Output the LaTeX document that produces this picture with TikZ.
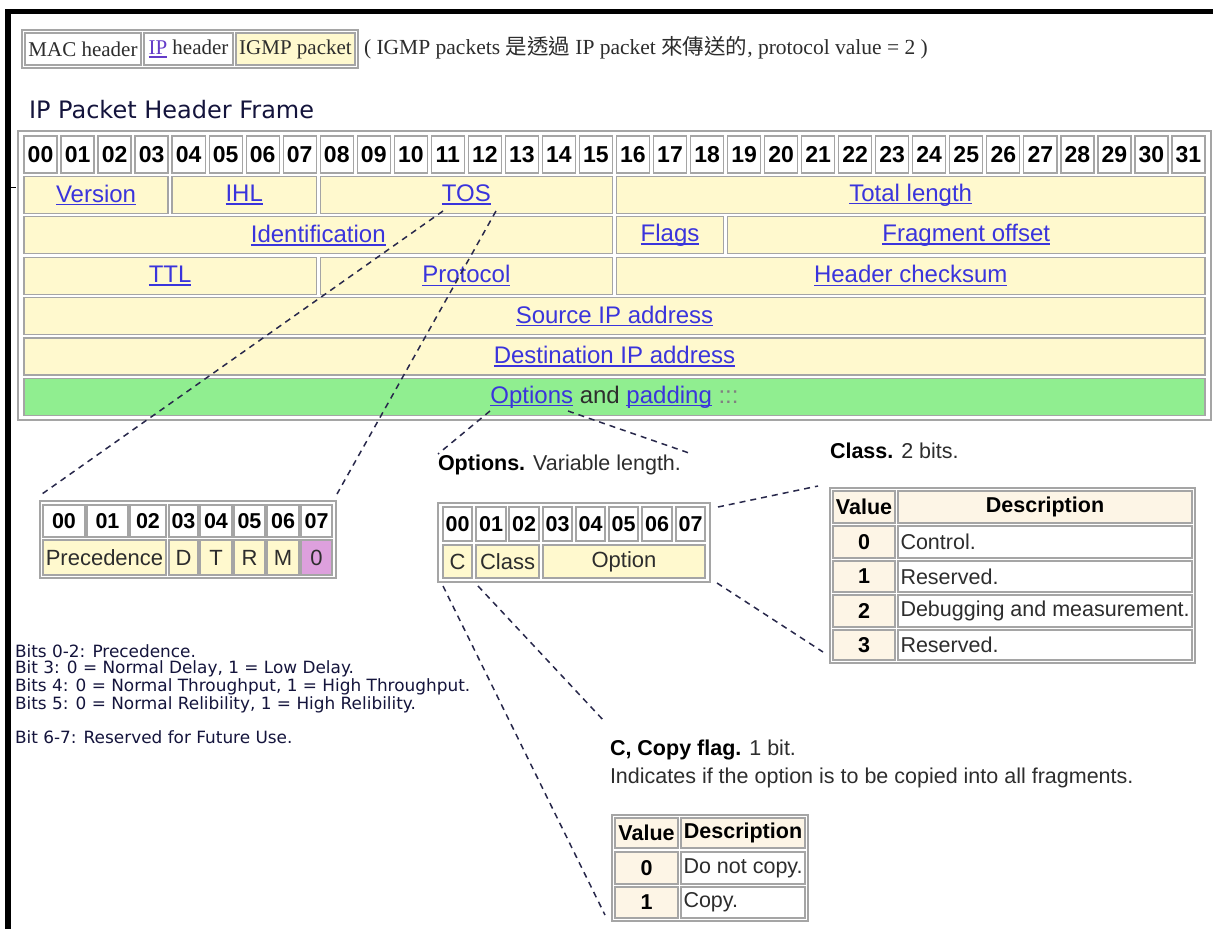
\documentclass[tikz,border=0pt]{standalone}
\usepackage{fontspec}
\setmainfont{Liberation Sans}
\newfontfamily\serifA{Liberation Serif}
\newfontfamily\verd{DejaVu Sans}
\newfontfamily\cjk{Noto Sans CJK TC}
\usetikzlibrary{calc}
\definecolor{cellyel}{RGB}{255,249,206}
\definecolor{cellgreen}{RGB}{144,238,144}
\definecolor{cellplum}{RGB}{221,160,221}
\definecolor{cellbeige}{RGB}{253,245,230}
\definecolor{lnkc}{RGB}{58,52,220}
\definecolor{ipc}{RGB}{100,60,200}
\definecolor{bordc}{RGB}{165,165,165}
\definecolor{dashc}{RGB}{40,40,75}
\definecolor{txtc}{RGB}{45,45,45}
\definecolor{titlec}{RGB}{20,20,60}
\newcommand\fsz[1]{\fontsize{#1}{#1}\selectfont}
\newcommand\ulc[2]{{\color{#1}\setbox0\hbox{#2}\rlap{\rule[-0.13em]{\wd0}{0.06em}}\box0}}
\newcommand\lnk[1]{\ulc{lnkc}{#1}}
\newcommand\twod[1]{\ifnum#1<10 0\fi#1}
\newcommand\cellat[7]{\node[cellbox,#6,minimum width={(#4)-(#2)},minimum height={(#5)-(#3)}] (#1) at ({((#2)+(#4))/2},{((#3)+(#5))/2}) {#7};}
\newcommand\cellL[7]{\pgfmathsetmacro\tw{(#4)-(#2)-5}\node[cellbox,#6,minimum width={(#4)-(#2)},minimum height={(#5)-(#3)}] (#1) at ({((#2)+(#4))/2},{((#3)+(#5))/2}) {\makebox[\tw pt][l]{#7}};}
\newcommand\fieldcell[6]{%
 \pgfmathsetmacro\xa{22+#2*37.03+2}\pgfmathsetmacro\xb{22+#3*37.03-2}%
 \pgfmathsetmacro\ya{136+#4*40.4}\pgfmathsetmacro\yb{\ya+37}%
 \cellat{#1}{\xa}{\ya}{\xb}{\yb}{fill=#5,font=\fsz{24}}{#6}}
\begin{document}
\begin{tikzpicture}[x=1pt,y=-1pt,
  cellbox/.style={draw=bordc,line width=1.3pt,inner sep=0pt,outer sep=0pt,text=txtc},
  bitnum/.style={fill=white,font=\bfseries\fsz{23},text=black},
  subbit/.style={fill=white,font=\bfseries\fsz{21.5},text=black},
  subfld/.style={font=\fsz{22}},
  tblhead/.style={fill=cellbeige,font=\bfseries\fsz{21.5},text=black},
  tblval/.style={fill=cellbeige,font=\bfseries\fsz{21.5},text=black},
  tbldesc/.style={fill=white,font=\fsz{21.5}},
  notetext/.style={plain,font=\verd\fsz{16.9},text=titlec},
  lbltext/.style={plain,font=\fsz{21.5},text=txtc},
  dashline/.style={draw=dashc,line width=1.5pt,dash pattern=on 6pt off 5pt},
  plain/.style={inner sep=0pt,outer sep=0pt,anchor=west}]
\fill[white] (0,0) rectangle (1213,929);
\fill[black] (5,9) rectangle (1213,14);
\fill[black] (5,9) rectangle (11,929);
\draw[black,line width=1pt] (11,187) -- (16,187);
% header strip
\cellat{hdr}{22}{30}{358}{68}{fill=white}{}
\cellat{mac}{25}{33}{141}{65}{fill=white,font=\serifA\fsz{21}}{MAC header}
\cellat{iph}{144}{33}{233}{65}{fill=white,font=\serifA\fsz{21}}{\ulc{ipc}{IP} header}
\cellat{igmp}{236}{33}{355}{65}{fill=cellyel,font=\serifA\fsz{21}}{IGMP packet}
\node[plain,font=\serifA\fsz{21.5},text=txtc] (note) at (364,48) {( IGMP packets {\cjk 是透過} IP packet {\cjk 來傳送的}, protocol value = 2 )};
\node[plain,font=\verd\fsz{24},text=titlec] (title) at (29,110) {IP Packet Header Frame};
% main table
\cellat{maintbl}{18}{131}{1211}{420}{fill=white}{}
\foreach \i in {0,...,31}{%
  \pgfmathsetmacro\xa{22+\i*37.03+2}\pgfmathsetmacro\xb{22+(\i+1)*37.03-2}%
  \cellat{b\i}{\xa}{136}{\xb}{173}{bitnum}{\twod{\i}}}
\fieldcell{ver}{0}{4}{1}{cellyel}{\lnk{Version}}
\fieldcell{ihl}{4}{8}{1}{cellyel}{\lnk{IHL}}
\fieldcell{tos}{8}{16}{1}{cellyel}{\lnk{TOS}}
\fieldcell{tlen}{16}{32}{1}{cellyel}{\lnk{Total length}}
\fieldcell{ident}{0}{16}{2}{cellyel}{\lnk{Identification}}
\fieldcell{flags}{16}{19}{2}{cellyel}{\lnk{Flags}}
\fieldcell{frag}{19}{32}{2}{cellyel}{\lnk{Fragment offset}}
\fieldcell{ttl}{0}{8}{3}{cellyel}{\lnk{TTL}}
\fieldcell{proto}{8}{16}{3}{cellyel}{\lnk{Protocol}}
\fieldcell{hcs}{16}{32}{3}{cellyel}{\lnk{Header checksum}}
\fieldcell{src}{0}{32}{4}{cellyel}{\lnk{Source IP address}}
\fieldcell{dst}{0}{32}{5}{cellyel}{\lnk{Destination IP address}}
\fieldcell{opt}{0}{32}{6}{cellgreen}{\lnk{Options} and \lnk{padding} {\color{gray}:::}}
% TOS sub table
\cellat{tossub}{40}{501}{336}{578}{fill=white}{}
\cellat{t0}{43}{505}{85}{537}{subbit}{00}
\cellat{t1}{87}{505}{128}{537}{subbit}{01}
\cellat{t2}{130}{505}{166}{537}{subbit}{02}
\cellat{t3}{169}{505}{198}{537}{subbit}{03}
\cellat{t4}{200}{505}{232}{537}{subbit}{04}
\cellat{t5}{234}{505}{265}{537}{subbit}{05}
\cellat{t6}{267}{505}{299}{537}{subbit}{06}
\cellat{t7}{301}{505}{332}{537}{subbit}{07}
\cellat{prec}{43}{540}{166}{575}{subfld,fill=cellyel}{Precedence}
\cellat{tD}{169}{540}{198}{575}{subfld,fill=cellyel}{D}
\cellat{tT}{200}{540}{232}{575}{subfld,fill=cellyel}{T}
\cellat{tR}{234}{540}{265}{575}{subfld,fill=cellyel}{R}
\cellat{tM}{267}{540}{299}{575}{subfld,fill=cellyel}{M}
\cellat{tZ}{301}{540}{332}{575}{subfld,fill=cellplum}{0}
% TOS bit notes
\node[notetext] (n1) at (15,651) {Bits 0-2: Precedence.};
\node[notetext] (n2) at (15,669) {Bit 3: 0 = Normal Delay, 1 = Low Delay.};
\node[notetext] (n3) at (15,687) {Bits 4: 0 = Normal Throughput, 1 = High Throughput.};
\node[notetext] (n4) at (15,705) {Bits 5: 0 = Normal Relibility, 1 = High Relibility.};
\node[notetext] (n5) at (15,737) {Bit 6-7: Reserved for Future Use.};
% Options sub table
\node[lbltext] (optlbl) at (438,465) {{\bfseries\color{black}Options.} Variable length.};
\cellat{optsub}{438}{503}{710}{582}{fill=white}{}
\cellat{o0}{443}{507}{472}{541}{subbit}{00}
\cellat{o1}{476}{507}{506}{541}{subbit}{01}
\cellat{o2}{509}{507}{539}{541}{subbit}{02}
\cellat{o3}{543}{507}{572}{541}{subbit}{03}
\cellat{o4}{576}{507}{605}{541}{subbit}{04}
\cellat{o5}{609}{507}{638}{541}{subbit}{05}
\cellat{o6}{642}{507}{672}{541}{subbit}{06}
\cellat{o7}{676}{507}{705}{541}{subbit}{07}
\cellat{oC}{443}{545}{472}{578}{subfld,fill=cellyel}{C}
\cellat{oClass}{476}{545}{539}{578}{subfld,fill=cellyel}{Class}
\cellat{oOpt}{543}{545}{705}{578}{subfld,fill=cellyel}{Option}
% Class table
\node[lbltext] (clslbl) at (830,451) {{\bfseries\color{black}Class.} 2 bits.};
\cellat{clstbl}{830}{488}{1195}{663}{fill=white}{}
\cellat{cvh}{833}{491}{895}{523}{tblhead}{Value}
\cellat{cdh}{898}{491}{1192}{523}{tblhead}{Description}
\cellat{cv0}{833}{526}{895}{558}{tblval}{0}
\cellL{cd0}{898}{526}{1192}{558}{tbldesc}{Control.}
\cellat{cv1}{833}{561}{895}{592}{tblval}{1}
\cellL{cd1}{898}{561}{1192}{592}{tbldesc}{Reserved.}
\cellat{cv2}{833}{595}{895}{627}{tblval}{2}
\cellL{cd2}{898}{595}{1192}{627}{tbldesc}{Debugging and measurement.}
\cellat{cv3}{833}{630}{895}{660}{tblval}{3}
\cellL{cd3}{898}{630}{1192}{660}{tbldesc}{Reserved.}
% Copy flag
\node[lbltext] (cpylbl) at (610,750) {{\bfseries\color{black}C, Copy flag.} 1 bit.};
\node[lbltext] (cpydesc) at (610,778) {Indicates if the option is to be copied into all fragments.};
\cellat{cpytbl}{612}{815}{808}{921}{fill=white}{}
\cellat{pvh}{615}{818}{678}{848}{tblhead}{Value}
\cellat{pdh}{681}{818}{805}{848}{tblhead}{Description}
\cellat{pv0}{615}{852}{678}{884}{tblval}{0}
\cellL{pd0}{681}{852}{805}{884}{tbldesc}{Do not copy.}
\cellat{pv1}{615}{887}{678}{918}{tblval}{1}
\cellL{pd1}{681}{887}{805}{918}{tbldesc}{Copy.}
% dashed connectors
\coordinate (tosA) at (443,211);
\coordinate (tosB) at (496,211);
\coordinate (tosAe) at (42,494);
\coordinate (tosBe) at (337,494);
\coordinate (optA) at (490,411);
\coordinate (optB) at (568,411);
\coordinate (optAe) at (438,454);
\coordinate (optBe) at (689,453);
\coordinate (clsA) at (718,507);
\coordinate (clsAe) at (818,486);
\coordinate (clsB) at (717,583);
\coordinate (clsBe) at (823,652);
\coordinate (cA) at (443,586);
\coordinate (cAe) at (605,915);
\coordinate (kA) at (478,586);
\coordinate (kAe) at (605,722);
\draw[dashline] (tosA) -- (tosAe);
\draw[dashline] (tosB) -- (tosBe);
\draw[dashline] (optA) -- (optAe);
\draw[dashline] (optB) -- (optBe);
\draw[dashline] (clsA) -- (clsAe);
\draw[dashline] (clsB) -- (clsBe);
\draw[dashline] (cA) -- (cAe);
\draw[dashline] (kA) -- (kAe);
\end{tikzpicture}
\end{document}
